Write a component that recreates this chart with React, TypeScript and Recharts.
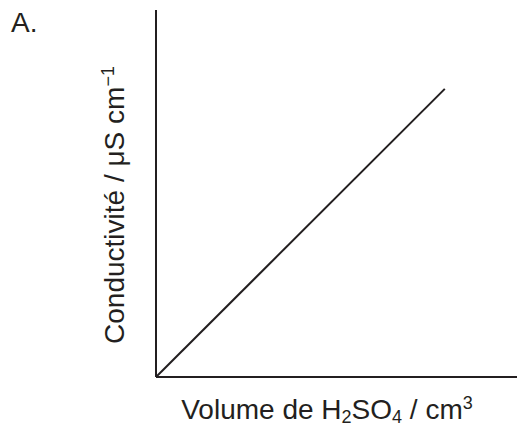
import React from 'react';
import { LineChart, Line, XAxis, YAxis } from 'recharts';

const volumes = [0, 80];
const conductivities = [0, 78.5];
const data = volumes.map((v, i) => ({ v, c: conductivities[i] }));

const FONT = '"Liberation Sans", Arial, sans-serif';
const INK = '#231f20';

const XLabel = () => {
  const cx = 327;
  const y = 419;
  return (
    <text x={cx} y={y} textAnchor="middle" fontFamily={FONT} fontSize={28} fill={INK}>
      <tspan>Volume de H</tspan>
      <tspan fontSize={18} dy={4}>2</tspan>
      <tspan dy={-4}>SO</tspan>
      <tspan fontSize={18} dy={4}>4</tspan>
      <tspan dy={-4}> / cm</tspan>
      <tspan fontSize={18} dy={-10}>3</tspan>
    </text>
  );
};

const YLabel = () => {
  const cx = 124;
  const cy = 205;
  return (
    <text x={cx} y={cy} textAnchor="middle" fontFamily={FONT} fontSize={28} fill={INK}
      transform={`rotate(-90 ${cx} ${cy})`}>
      <tspan>Conductivité / μS cm</tspan>
      <tspan fontSize={18} dy={-10}>−1</tspan>
    </text>
  );
};

export default function App() {
  return (
    <div style={{ position: 'absolute', left: 0, top: 0, width: 518, height: 427, background: '#fff' }}>
      <div style={{ position: 'absolute', left: 11, top: 6, fontFamily: FONT, fontSize: 28, color: INK, lineHeight: 1.2 }}>A.</div>
      <LineChart width={518} height={427} data={data} margin={{ top: 10, right: 1, bottom: 0, left: 155 }}>
        <XAxis dataKey="v" type="number" domain={[0, 100]} ticks={[]} tick={false} tickLine={false}
          axisLine={{ stroke: INK, strokeWidth: 2 }} height={50} label={<XLabel />} />
        <YAxis type="number" domain={[0, 100]} ticks={[]} tick={false} tickLine={false} width={1}
          axisLine={{ stroke: INK, strokeWidth: 2 }} label={<YLabel />} />
        <Line dataKey="c" stroke={INK} strokeWidth={2} dot={false} isAnimationActive={false} />
      </LineChart>
    </div>
  );
}
